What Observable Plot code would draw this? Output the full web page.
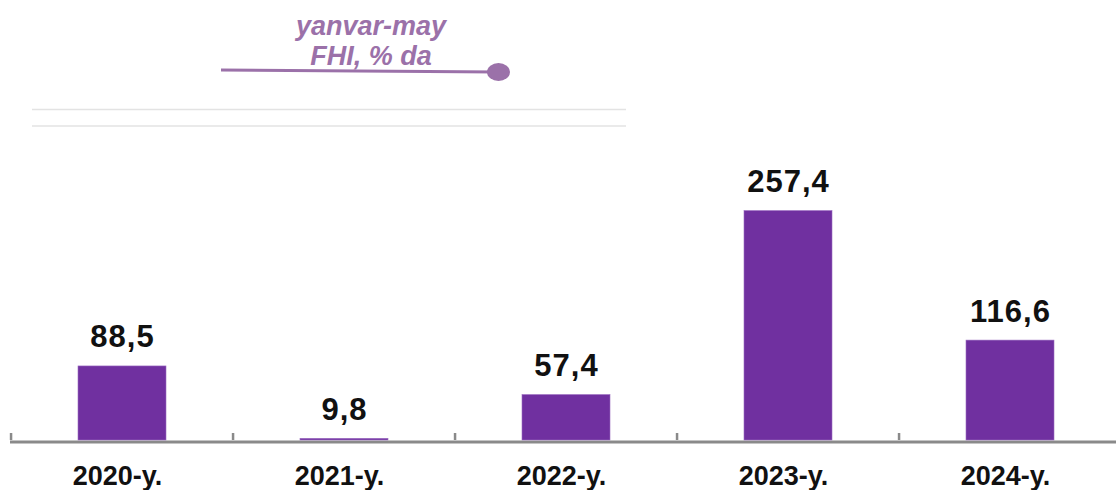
<!DOCTYPE html>
<html>
<head>
<meta charset="utf-8">
<script src="https://cdn.jsdelivr.net/npm/d3@7"></script>
<script src="https://cdn.jsdelivr.net/npm/@observablehq/plot@0.6"></script>
<style>
  html, body { margin: 0; padding: 0; background: #fff; overflow: hidden; }
  #wrap { position: relative; width: 1116px; height: 490px; font-family: "Liberation Sans", Arial, sans-serif; }
  #legend { position: absolute; left: 0; top: 0; }
  .vlabel text { letter-spacing: 1px; }
</style>
</head>
<body>
<div id="wrap"></div>
<script>
const years = ["2020-y.", "2021-y.", "2022-y.", "2023-y.", "2024-y."];
const values = [88.5, 9.8, 57.4, 257.4, 116.6];
const legendLines = ["yanvar-may", "FHI, % da"];

const data = years.map((year, i) => ({year, value: values[i]}));
const fmt = v => v.toFixed(1).replace(".", ",");
const yMin = 8;

const purple = "#7030a0";
const axisGray = "#8a8a8a";

const chart = Plot.plot({
  width: 1116,
  height: 490,
  marginLeft: 10,
  marginRight: 0,
  marginTop: 0,
  marginBottom: 50,
  style: {fontFamily: "'Liberation Sans', Arial, sans-serif", background: "transparent"},
  x: {type: "band", domain: years, paddingInner: 0.603, paddingOuter: 0.2824, align: 0.525, axis: null},
  y: {domain: [yMin, 486.3], axis: null},
  marks: [
    Plot.ruleY([yMin], {stroke: axisGray, strokeWidth: 3, dy: 1.5}),
    Plot.ruleX(years, {x: d => d, dx: -111.45, insetTop: 433, stroke: axisGray, strokeWidth: 2.5}),
    Plot.barY(data, {x: "year", y1: () => yMin, y2: "value", fill: purple, stroke: "#9b6cc0", strokeWidth: 0.6}),
    Plot.text(data, {x: "year", y: "value", text: d => fmt(d.value), lineAnchor: "bottom", dy: -19,
      fontSize: 31, fontWeight: "bold", fill: "#111", className: "vlabel"}),
    Plot.text(data, {x: "year", text: "year", frameAnchor: "bottom", lineAnchor: "bottom", dy: 44, dx: -5,
      fontSize: 27, fontWeight: "bold", fill: "#111"})
  ]
});

const wrap = document.getElementById("wrap");
wrap.appendChild(chart);

// legend overlay
const lg = d3.select(wrap).append("svg")
  .attr("id", "legend").attr("width", 1116).attr("height", 140);
lg.append("line").attr("x1", 32).attr("x2", 626).attr("y1", 109.5).attr("y2", 109.5)
  .attr("stroke", "#e3e3e3").attr("stroke-width", 1.5);
lg.append("line").attr("x1", 32).attr("x2", 626).attr("y1", 126).attr("y2", 126)
  .attr("stroke", "#e3e3e3").attr("stroke-width", 1.5);
const lcol = "#9b71a9";
lg.append("line").attr("x1", 221).attr("y1", 70).attr("x2", 497).attr("y2", 72)
  .attr("stroke", lcol).attr("stroke-width", 3);
lg.append("ellipse").attr("cx", 498.5).attr("cy", 72).attr("rx", 11.5).attr("ry", 9).attr("fill", lcol);
lg.selectAll("text.lt").data(legendLines).join("text")
  .attr("class", "lt")
  .attr("x", 371).attr("y", (d, i) => 35 + i * 30)
  .attr("text-anchor", "middle")
  .attr("font-family", "'Liberation Sans', Arial, sans-serif")
  .attr("font-size", 27).attr("font-weight", "bold").attr("font-style", "italic")
  .attr("fill", lcol)
  .text(d => d);
</script>
</body>
</html>
